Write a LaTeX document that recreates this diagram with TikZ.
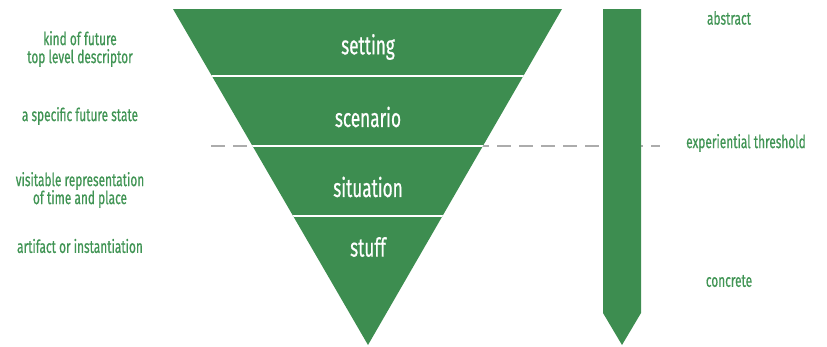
\documentclass[tikz,border=0pt]{standalone}
\usepackage{fontspec}
\setmainfont{Fira Sans}[FakeStretch=0.66,FakeBold=0.6]
\definecolor{dgreen}{RGB}{61,141,80}
\definecolor{lgreen}{RGB}{64,148,84}
\definecolor{dashgray}{RGB}{172,172,172}
\begin{document}
\begin{tikzpicture}[x=1pt,y=-1pt,
  side/.style={text=lgreen,font=\fontsize{18}{18}\selectfont,align=center,inner sep=0pt},
  band/.style={text=white,font=\fontsize{26}{26}\selectfont,inner sep=0pt}]
\useasboundingbox (0,0) rectangle (827,346);
% threshold
\draw[dashgray,line width=2pt,dash pattern=on 14pt off 8pt] (211,146) -- (660,146);
% funnel
\fill[dgreen] (173,9) -- (562,9) -- (368,345) -- cycle;
\begin{scope}
\clip (173,9) -- (562,9) -- (368,345) -- cycle;
\foreach \yy in {76,146,216} \draw[white,line width=1.5pt] (150,\yy) -- (600,\yy);
\end{scope}
% bar
\fill[dgreen] (603,9) -- (641,9) -- (641,313) -- (622,345) -- (603,313) -- cycle;
% band labels
\node[band] (setting) at (368,47) {setting};
\node[band] (scenario) at (368,117) {scenario};
\node[band] (situation) at (368,187) {situation};
\node[band] (stuff) at (368,247) {stuff};
% left labels
\node[side] (kind) at (80,49) {kind of future\\top level descriptor};
\node[side] (spec) at (80,116) {a specific future state};
\node[side] (visit) at (80,190) {visitable representation\\of time and place};
\node[side] (art) at (80,246) {artifact or instantiation};
% right labels
\node[side] (abs) at (729,18) {abstract};
\node[side] (exp) at (746,143) {experiential threshold};
\node[side] (con) at (729,281) {concrete};
\end{tikzpicture}
\end{document}
